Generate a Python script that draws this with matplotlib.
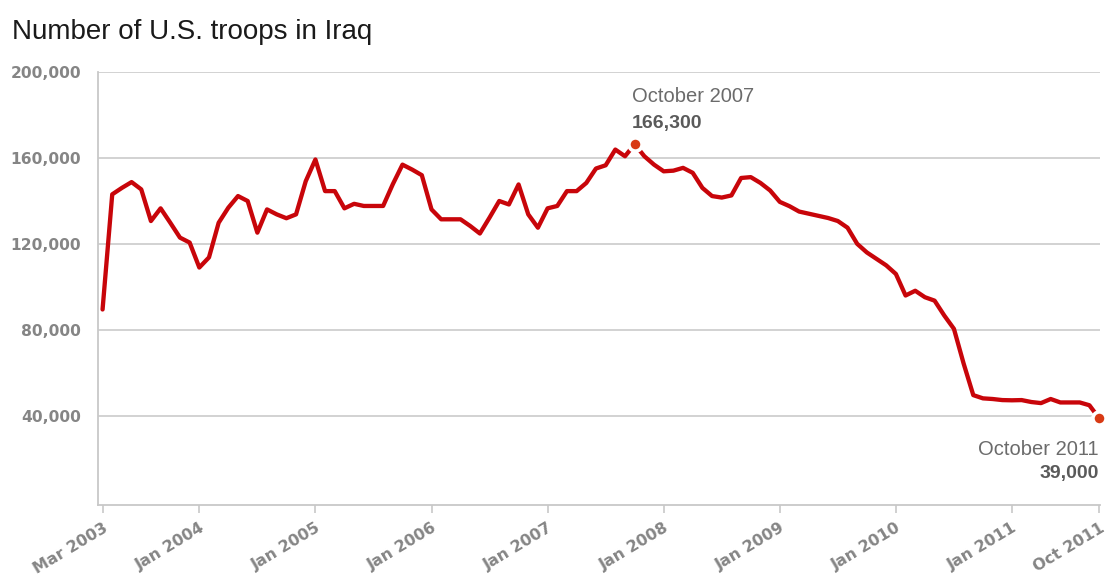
"""Monthly U.S. troop levels in Iraq, Mar 2003 - Oct 2011."""
import matplotlib

matplotlib.use("Agg")
import matplotlib.pyplot as plt  # noqa: E402
import pandas as pd  # noqa: E402

# --- data -------------------------------------------------------------------
months = pd.date_range("2003-03-01", "2011-10-01", freq="MS")

troops = [
    89500, 143000, 146000, 148700, 145300, 130600, 136500, 129800, 122900, 120600,  # 2003
    109000, 113700, 129800, 136800, 142200, 139900, 125200, 136000, 133700, 131900,
    133700, 149100,                                                                  # 2004
    159200, 144500, 144500, 136500, 138600, 137600, 137600, 137600, 147700, 156800,
    154500, 151900,                                                                  # 2005
    136000, 131400, 131400, 131400, 128300, 124800, 132200, 139900, 138300, 147600,
    133700, 127500,                                                                  # 2006
    136500, 137600, 144500, 144500, 148300, 155000, 156500, 163800, 160700, 166300,
    160700, 156800,                                                                  # 2007
    153700, 154000, 155300, 153000, 146000, 142200, 141500, 142500, 150600, 151000,
    148300, 144800,                                                                  # 2008
    139500, 137500, 135000, 134000, 133000, 132000, 130600, 127500, 120000, 116000,
    113000, 110000,                                                                  # 2009
    106000, 96000, 98200, 95200, 93600, 86700, 80500, 64400, 49700, 48200,
    47900, 47400,                                                                    # 2010
    47300, 47400, 46500, 46000, 47900, 46300, 46300, 46300, 45000, 39000,            # 2011
]

tick_months = ["2003-03", "2004-01", "2005-01", "2006-01", "2007-01", "2008-01",
               "2009-01", "2010-01", "2011-01", "2011-10"]
tick_labels = ["Mar 2003", "Jan 2004", "Jan 2005", "Jan 2006", "Jan 2007", "Jan 2008",
               "Jan 2009", "Jan 2010", "Jan 2011", "Oct 2011"]

y_ticks = [40000, 80000, 120000, 160000, 200000]

# highlighted points: (month, label)
callouts = [("2007-10", "October 2007"), ("2011-10", "October 2011")]

# --- styling ----------------------------------------------------------------
LINE_RED = "#c8050a"
DOT_RED = "#d83a14"
GRID = "#cfcfcf"
TICK_GREY = "#858585"

x = list(range(len(months)))
month_pos = {m.strftime("%Y-%m"): i for i, m in enumerate(months)}

fig = plt.figure(figsize=(11.05, 5.78), dpi=100)
ax = fig.add_axes([0.0887, 0.1263, 0.9068, 0.7497])

ax.plot(x, troops, color=LINE_RED, lw=3.1, solid_joinstyle="round",
        solid_capstyle="round", zorder=3)

ax.set_xlim(-0.47, 103.1)
ax.set_ylim(-1350, 200000)

ax.set_yticks(y_ticks)
ax.set_yticklabels([f"{v:,}" for v in y_ticks], fontfamily="DejaVu Sans",
                   fontweight="bold", fontsize=11.2, color=TICK_GREY)
ax.tick_params(axis="y", length=0, pad=12)
ax.yaxis.grid(True, color=GRID, lw=1.3)
ax.set_axisbelow(True)

ax.set_xticks([month_pos[m] for m in tick_months])
ax.set_xticklabels(tick_labels, rotation=31, ha="right", rotation_mode="anchor",
                   fontfamily="DejaVu Sans", fontweight="bold", fontsize=11.4,
                   color=TICK_GREY)
ax.tick_params(axis="x", length=6, width=1.2, color="#c8c8c8", pad=5)

for side in ("top", "right"):
    ax.spines[side].set_visible(False)
for side in ("left", "bottom"):
    ax.spines[side].set_color("#c8c8c8")
    ax.spines[side].set_linewidth(1.3)

# markers with a white ring so the line breaks around them
for month, label in callouts:
    i = month_pos[month]
    val = troops[i]
    ax.plot(i, val, "o", ms=9.5, color=DOT_RED, mec="white", mew=2.6,
            zorder=4, clip_on=False)
    if i == len(months) - 1:
        ax.annotate(label, (i, val), xytext=(0, -37), textcoords="offset pixels",
                    ha="right", va="baseline", fontsize=14.5, color="#6b6b6b",
                    fontfamily="Liberation Sans")
        ax.annotate(f"{val:,}", (i, val), xytext=(0, -60), textcoords="offset pixels",
                    ha="right", va="baseline", fontsize=14, fontweight="bold",
                    color="#5a5a5a", fontfamily="Liberation Sans")
    else:
        ax.annotate(label, (i, val), xytext=(-3, 42), textcoords="offset pixels",
                    ha="left", va="baseline", fontsize=14.5, color="#6b6b6b",
                    fontfamily="Liberation Sans")
        ax.annotate(f"{val:,}", (i, val), xytext=(-3, 16), textcoords="offset pixels",
                    ha="left", va="baseline", fontsize=14, fontweight="bold",
                    color="#5a5a5a", fontfamily="Liberation Sans")

fig.text(12 / 1105, 1 - 39 / 578, "Number of U.S. troops in Iraq",
         fontfamily="Liberation Sans", fontsize=20, color="#1a1a1a",
         ha="left", va="baseline")

fig.savefig("out.png", dpi=100, facecolor="white")
